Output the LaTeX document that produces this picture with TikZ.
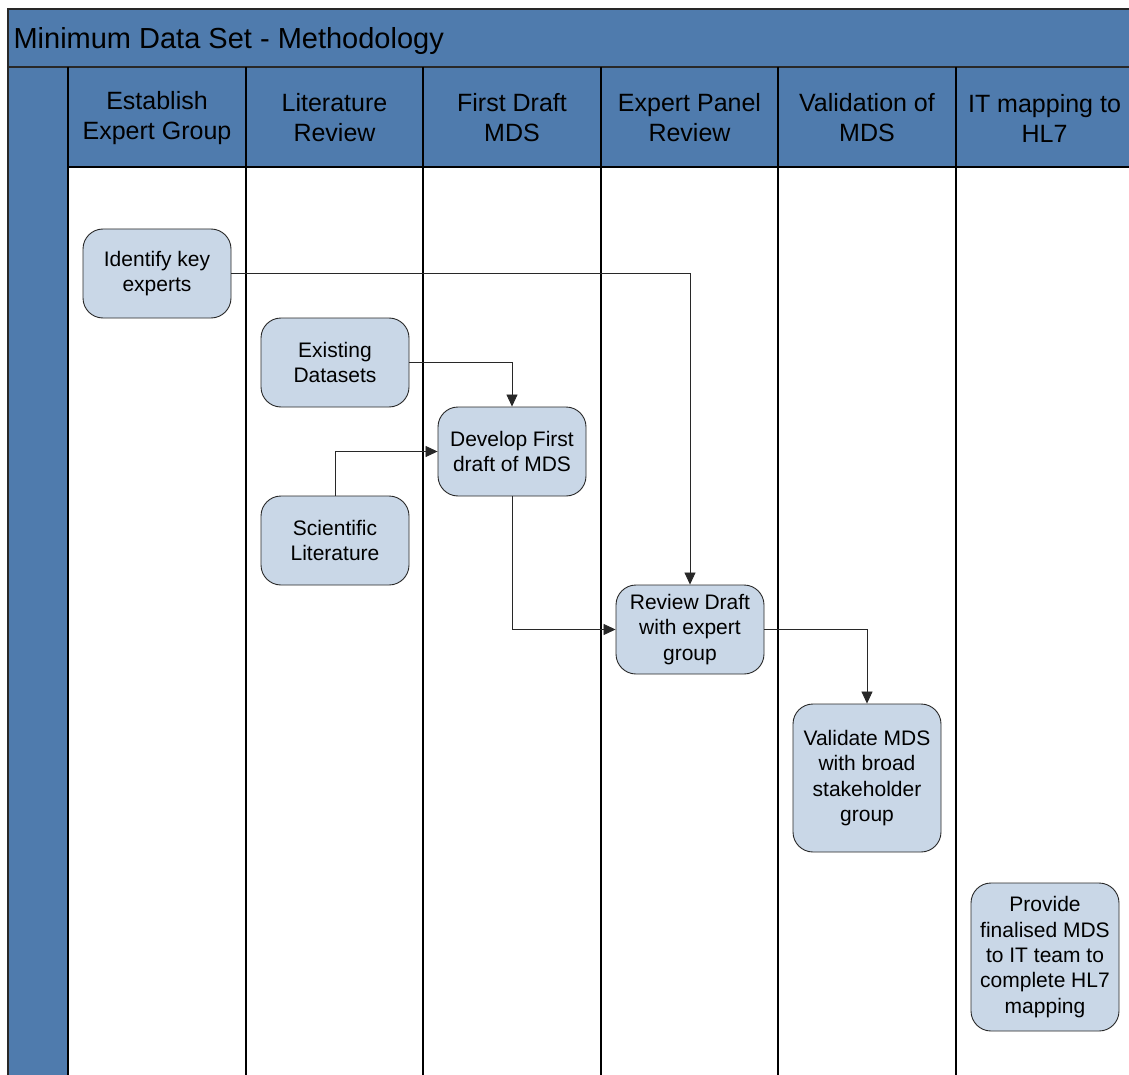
\documentclass[tikz,border=0pt]{standalone}
\usepackage{fontspec}
\setmainfont{Liberation Sans}
\usetikzlibrary{arrows.meta}
\definecolor{bandblue}{RGB}{79,123,173}
\definecolor{stepfill}{RGB}{201,215,231}
\definecolor{edgegray}{RGB}{40,40,40}
\tikzset{
  stepbox/.style={draw=edgegray, line width=0.9pt, fill=stepfill, rounded corners=20pt,
    minimum width=148pt, minimum height=89pt, align=center, inner sep=2pt,
    font=\fontsize{21}{25.4}\selectfont},
  tallbox/.style={stepbox, minimum height=148pt},
  flow/.style={draw=edgegray, line width=0.8pt, -{Triangle[length=12pt,width=11pt]}},
  lanehead/.style={align=center, font=\fontsize{25}{30}\selectfont},
  laneline/.style={draw=black, line width=1.3pt}
}
\begin{document}
\begin{tikzpicture}[x=1pt,y=-1pt]
\useasboundingbox (0,0) rectangle (1129,1075);
% pool frame, title band, header band and left rail
\fill[white] (0,0) rectangle (1129,1075);
\fill[bandblue] (8,9) rectangle (1140,167);
\fill[bandblue] (8,167) rectangle (68,1090);
\draw[edgegray, line width=1.3pt] (8,1090) -- (8,9) -- (1140,9);
\draw[edgegray, line width=1.3pt] (8,67) -- (1140,67);
\draw[black, line width=1.1pt] (68,167) -- (1140,167);
\node[anchor=west, font=\fontsize{29}{34}\selectfont] (title) at (10,41) {Minimum Data Set - Methodology};
% lane separators
\foreach \lx in {68,246,423,601,778,956}
  \draw[laneline] (\lx,67) -- (\lx,1090);
% lane headers
\node[lanehead] (h1) at (157,118) {Establish\\Expert Group};
\node[lanehead] (h2) at (334.5,118) {Literature\\Review};
\node[lanehead] (h3) at (512,118) {First Draft\\MDS};
\node[lanehead] (h4) at (689.5,118) {Expert Panel\\Review};
\node[lanehead] (h5) at (867,118) {Validation of\\MDS};
\node[lanehead] (h6) at (1044.5,118) {IT mapping to\\HL7};
% process steps
\node[stepbox] (experts) at (157,273.5) {Identify key\\experts};
\node[stepbox] (datasets) at (335,362.5) {Existing\\Datasets};
\node[stepbox] (draft) at (512,451.5) {Develop First\\draft of MDS};
\node[stepbox] (lit) at (335,540.5) {Scientific\\Literature};
\node[stepbox] (review) at (690,629.5) {Review Draft\\with expert\\group};
\node[tallbox] (validate) at (867,778) {Validate MDS\\with broad\\stakeholder\\group};
\node[tallbox] (handover) at (1045,957) {Provide\\finalised MDS\\to IT team to\\complete HL7\\mapping};
% flow connectors
\draw[flow] (experts.east) -| (review.north);
\draw[flow] (datasets.east) -| (draft.north);
\draw[flow] (lit.north) |- (draft.west);
\draw[flow] (draft.south) |- (review.west);
\draw[flow] (review.east) -| (validate.north);
\end{tikzpicture}
\end{document}
